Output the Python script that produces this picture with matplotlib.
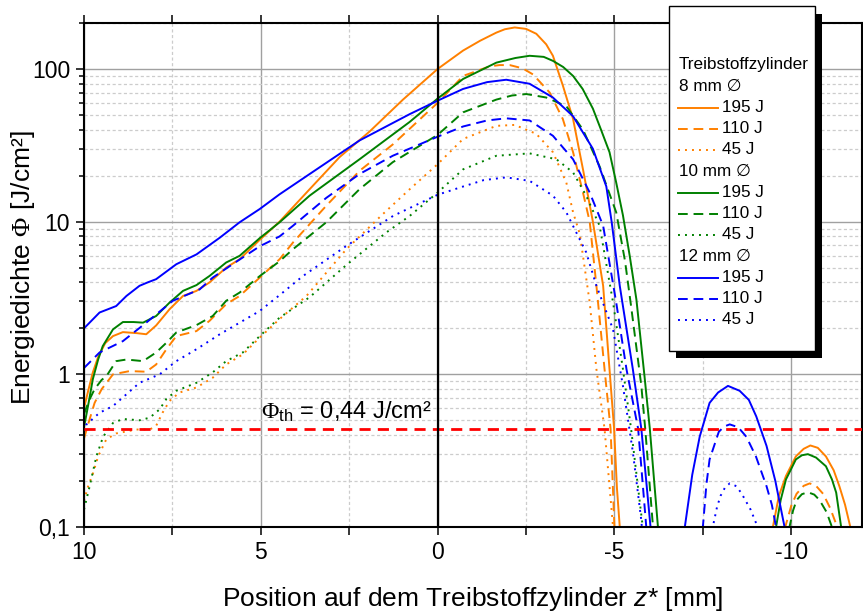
import matplotlib
matplotlib.use("Agg")
import matplotlib.pyplot as plt
from matplotlib.ticker import FixedLocator, FuncFormatter, LogLocator, NullFormatter
from matplotlib.lines import Line2D
from matplotlib.patches import Rectangle

plt.rcParams['font.family'] = ['Liberation Sans', 'DejaVu Sans']
plt.rcParams['mathtext.fontset'] = 'custom'
plt.rcParams['mathtext.rm'] = 'Liberation Serif'
plt.rcParams['mathtext.sf'] = 'Liberation Sans'
plt.rcParams['mathtext.it'] = 'Liberation Sans:italic'

# ---- energy density along the propellant cylinder, z* in mm, phi in J/cm^2 ----
# 8 mm diameter
x_8_195 = [10, 9.87, 9.75, 9.6, 9.4, 9.18, 8.9, 8.5, 8.24, 7.96, 7.58, 7.2, 6.82, 6.45, 5.98, 5.6,
           5.03, 4.47, 3.62, 2.77, 1.92, 0.98, 0, -0.72, -1.2, -1.66, -1.9, -2.18, -2.5, -2.79,
           -3.07, -3.26, -3.54, -3.83, -4.11, -4.39, -4.68, -4.86, -4.99, -5.07, -5.15, -5.3]
phi_8_195 = [0.6, 0.8, 1.03, 1.3, 1.6, 1.78, 1.89, 1.86, 1.83, 2.09, 2.67, 3.26, 3.52, 4.0, 5.0, 5.67,
             7.6, 10.0, 16.3, 26.5, 39, 63, 100, 132, 153, 173, 182, 187, 183, 170,
             145, 122, 78, 47, 22, 10, 3.8, 1.08, 0.44, 0.18, 0.1, 0.03]
x_8_195_side = [-9.3, -9.48, -9.65, -9.85, -10.13, -10.35, -10.54, -10.75, -10.98, -11.2, -11.36,
                -11.52, -11.67, -11.85]
phi_8_195_side = [0.03, 0.1, 0.16, 0.216, 0.29, 0.325, 0.342, 0.33, 0.29, 0.235, 0.185,
                  0.14, 0.1, 0.03]

x_8_110 = [10, 9.85, 9.7, 9.5, 9.33, 9.18, 8.71, 8.24, 7.96, 7.67, 7.39, 6.82, 6.45, 5.98, 5.6, 5.03,
           4.47, 4.09, 3.15, 2.21, 1.27, 0, -0.72, -1.47, -1.75, -2.04, -2.4, -2.7, -3.17, -3.54,
           -3.83, -4.11, -4.3, -4.49, -4.72, -4.89, -5.0, -5.15]
phi_8_110 = [0.38, 0.5, 0.65, 0.8, 0.9, 1.0, 1.05, 1.04, 1.16, 1.46, 1.78, 1.92, 2.24, 2.88, 3.26, 4.3,
             5.67, 7.3, 12.7, 21.5, 32, 60, 90, 104, 106, 106, 101, 92, 70, 47,
             28.5, 15.5, 10, 3.8, 1.08, 0.44, 0.1, 0.03]
x_8_110_side = [-9.65, -9.83, -10.0, -10.15, -10.35, -10.52, -10.7, -10.9, -11.1, -11.3, -11.5]
phi_8_110_side = [0.03, 0.1, 0.138, 0.165, 0.186, 0.193, 0.186, 0.165, 0.133, 0.1, 0.03]

x_8_45 = [10, 9.9, 9.74, 9.6, 9.37, 9.09, 8.52, 8.14, 7.96, 7.78, 7.58, 7.3, 6.82, 6.36, 5.98, 5.51,
          5.03, 4.47, 3.71, 2.58, 1.55, 0.79, 0, -0.72, -1.66, -2.18, -2.79, -3.26, -3.64, -3.83,
          -4.02, -4.3, -4.49, -4.72, -4.96, -5.1]
phi_8_45 = [0.148, 0.18, 0.227, 0.29, 0.375, 0.41, 0.435, 0.435, 0.46, 0.56, 0.67, 0.76, 0.82, 0.95, 1.16, 1.35,
            1.74, 2.3, 3.26, 6.6, 11.2, 16.3, 23.8, 34.8, 42.4, 43, 37.6, 28.5, 18, 11.5,
            8.3, 2.96, 1.08, 0.44, 0.1, 0.03]

# 10 mm diameter
x_10_195 = [10, 9.87, 9.75, 9.6, 9.47, 9.18, 8.9, 8.6, 8.33, 7.96, 7.58, 7.2, 6.82, 6.45, 5.98, 5.6,
            5.03, 4.47, 3.62, 2.21, 0.79, 0, -0.72, -1.66, -2.2, -2.6, -3.0, -3.26, -3.55, -3.83,
            -4.1, -4.39, -4.62, -4.86, -5.05, -5.24, -5.43, -5.62, -5.85, -6.0, -6.23, -6.35]
phi_10_195 = [0.45, 0.65, 0.93, 1.25, 1.53, 1.97, 2.2, 2.2, 2.18, 2.41, 2.95, 3.52, 3.84, 4.41, 5.4, 5.97,
              7.8, 9.9, 14.8, 25.6, 45, 64, 86, 110, 118, 122, 120, 113, 103, 90,
              74, 55, 40, 28.5, 18, 11, 6, 3.1, 0.97, 0.44, 0.1, 0.03]
x_10_195_side = [-9.4, -9.57, -9.7, -9.85, -10.13, -10.3, -10.47, -10.7, -10.98, -11.15, -11.27,
                 -11.41, -11.6]
phi_10_195_side = [0.03, 0.1, 0.15, 0.205, 0.277, 0.295, 0.30, 0.285, 0.25, 0.205, 0.168,
                   0.1, 0.03]

x_10_110 = [10, 9.85, 9.7, 9.5, 9.37, 9.09, 8.8, 8.33, 7.96, 7.67, 7.39, 6.82, 6.36, 5.98, 5.6, 5.03,
            4.47, 4.09, 3.15, 2.21, 1.27, 0, -0.72, -1.66, -2.1, -2.51, -3.07, -3.64, -4.11, -4.58,
            -5.05, -5.3, -5.47, -5.76, -5.87, -6.09, -6.25]
phi_10_110 = [0.55, 0.68, 0.8, 0.92, 0.97, 1.22, 1.25, 1.22, 1.39, 1.61, 1.88, 2.1, 2.41, 3.03, 3.43, 4.4,
              5.5, 6.6, 9.9, 16.3, 24.5, 37, 52, 63, 67, 68.5, 65, 57, 40, 23,
              11.5, 5.5, 2.8, 0.84, 0.44, 0.1, 0.03]
x_10_110_side = [-9.8, -9.95, -10.05, -10.15, -10.3, -10.47, -10.65, -10.8, -11.0, -11.15, -11.3]
phi_10_110_side = [0.03, 0.1, 0.128, 0.15, 0.164, 0.169, 0.163, 0.15, 0.125, 0.1, 0.03]

x_10_45 = [10, 9.84, 9.65, 9.46, 9.18, 8.9, 8.43, 8.14, 7.86, 7.67, 7.39, 6.82, 6.36, 5.98, 5.51, 5.03,
           4.47, 3.62, 2.58, 1.45, 0.79, 0, -0.72, -1.66, -2.6, -3.36, -3.83, -4.2, -4.58, -4.96,
           -5.24, -5.47, -5.8, -6.0]
phi_10_45 = [0.13, 0.185, 0.29, 0.39, 0.48, 0.51, 0.50, 0.52, 0.59, 0.69, 0.78, 0.88, 1.03, 1.22, 1.39, 1.78,
             2.35, 3.2, 5.2, 8.5, 10.9, 15.5, 22, 27, 28, 25.6, 21, 14.8, 9.4, 2.96,
             1.08, 0.44, 0.1, 0.03]

# 12 mm diameter
x_12_195 = [10, 9.56, 9.09, 8.8, 8.43, 8.2, 7.96, 7.39, 6.82, 6.16, 5.6, 5.03, 4.47, 3.62, 2.21, 0.79,
            0, -0.72, -1.4, -1.94, -2.6, -3.26, -3.83, -4.39, -4.77, -4.92, -5.15, -5.52, -5.76,
            -6.02, -6.15]
phi_12_195 = [2.0, 2.54, 2.8, 3.26, 3.8, 4.0, 4.2, 5.26, 6.1, 7.85, 9.9, 12.1, 15.1, 20.5, 34, 50.6,
              62, 74, 82, 85, 80, 65, 49, 30, 17, 10, 3.8, 1.08, 0.44,
              0.1, 0.03]
x_12_195_side = [-6.85, -6.99, -7.2, -7.41, -7.69, -7.93, -8.21, -8.54, -8.8, -9.01, -9.3, -9.55,
                 -9.81, -9.95]
phi_12_195_side = [0.03, 0.1, 0.22, 0.39, 0.65, 0.76, 0.84, 0.78, 0.68, 0.53, 0.34, 0.2,
                   0.1, 0.03]

x_12_110 = [10, 9.56, 8.9, 8.24, 7.49, 6.73, 6.36, 5.8, 5.03, 4.47, 4.09, 3.15, 2.21, 1.27, 0, -0.72,
            -1.4, -1.94, -2.6, -3.26, -3.83, -4.3, -4.68, -5.05, -5.34, -5.67, -5.9, -6.05]
phi_12_110 = [1.1, 1.39, 1.65, 2.18, 3.03, 3.6, 4.3, 5.26, 6.9, 8.0, 9.4, 14.3, 20.5, 27, 36, 42,
              46, 47.5, 46, 36.5, 25.6, 15.5, 9.4, 2.95, 1.08, 0.44, 0.1, 0.03]
x_12_110_side = [-7.35, -7.5, -7.6, -7.69, -7.95, -8.1, -8.26, -8.5, -8.73, -9.0, -9.3, -9.45,
                 -9.57, -9.75]
phi_12_110_side = [0.03, 0.1, 0.19, 0.277, 0.42, 0.455, 0.47, 0.45, 0.39, 0.29, 0.185, 0.14,
                   0.1, 0.03]

x_12_45 = [10, 9.93, 9.56, 9.18, 8.8, 8.43, 7.86, 7.39, 6.82, 6.16, 5.03, 4.47, 3.81, 2.58, 1.26, 0,
           -0.62, -1.3, -1.94, -2.6, -3.26, -3.64, -3.92, -4.2, -4.49, -4.96, -5.24, -5.52, -5.76, -5.95]
phi_12_45 = [0.42, 0.47, 0.56, 0.62, 0.74, 0.88, 1.0, 1.22, 1.46, 1.83, 2.6, 3.3, 4.4, 6.94, 10.9, 15,
             16.7, 18.7, 19.5, 18.5, 14.8, 11.5, 8.5, 6.3, 3.8, 1.97, 0.84, 0.31, 0.11, 0.03]
x_12_45_side = [-7.65, -7.78, -7.9, -8.0, -8.13, -8.26, -8.45, -8.6, -8.85, -9.05, -9.2]
phi_12_45_side = [0.03, 0.1, 0.135, 0.16, 0.182, 0.193, 0.185, 0.165, 0.13, 0.1, 0.03]

phi_th = 0.44  # ablation threshold

diameters = ["8 mm", "10 mm", "12 mm"]
energies = ["195 J", "110 J", "45 J"]
colors = {"8 mm": "#ff8000", "10 mm": "#008000", "12 mm": "#0000ff"}
dash_styles = {"195 J": (None, None), "110 J": (5, 3), "45 J": (1, 2.6)}

curves = {
    ("8 mm", "195 J"): [(x_8_195, phi_8_195), (x_8_195_side, phi_8_195_side)],
    ("8 mm", "110 J"): [(x_8_110, phi_8_110), (x_8_110_side, phi_8_110_side)],
    ("8 mm", "45 J"): [(x_8_45, phi_8_45)],
    ("10 mm", "195 J"): [(x_10_195, phi_10_195), (x_10_195_side, phi_10_195_side)],
    ("10 mm", "110 J"): [(x_10_110, phi_10_110), (x_10_110_side, phi_10_110_side)],
    ("10 mm", "45 J"): [(x_10_45, phi_10_45)],
    ("12 mm", "195 J"): [(x_12_195, phi_12_195), (x_12_195_side, phi_12_195_side)],
    ("12 mm", "110 J"): [(x_12_110, phi_12_110), (x_12_110_side, phi_12_110_side)],
    ("12 mm", "45 J"): [(x_12_45, phi_12_45), (x_12_45_side, phi_12_45_side)],
}

x_ticks = [10, 5, 0, -5, -10]
x_minor = [7.5, 2.5, -2.5, -7.5]
y_ticks = [0.1, 1, 10, 100]
y_labels = ["0,1", "1", "10", "100"]

W, H = 863, 614
fig = plt.figure(figsize=(W / 100, H / 100), dpi=100)
ax = fig.add_axes([84 / W, 1 - 527 / H, 778 / W, 504 / H])

lw = 1.4


def style(line, energy):
    d = dash_styles[energy]
    if d[0] is not None:
        line.set_dashes(d)


for (dia, en), parts in curves.items():
    for xs, ys in parts:
        ln, = ax.plot(xs, ys, color=colors[dia], lw=lw, solid_capstyle="butt", solid_joinstyle="round")
        style(ln, en)

ax.axhline(phi_th, color="#ff0000", lw=2.0, dashes=(4, 2.6), zorder=3)
ax.axvline(0, color="black", lw=1.6, zorder=3)
ax.text(5.0, 0.52, r"$\Phi_{\mathsf{th}}$ = " + f"{phi_th:.2f}".replace(".", ",") + " J/cm²",
        fontsize=17, ha="left", va="baseline")

ax.set_yscale("log")
ax.set_xlim(10, -12)
ax.set_ylim(0.1, 200)

ax.xaxis.set_major_locator(FixedLocator(x_ticks))
ax.xaxis.set_minor_locator(FixedLocator(x_minor))
ax.xaxis.set_major_formatter(FuncFormatter(lambda v, p: f"{v:g}"))
ax.yaxis.set_major_locator(FixedLocator(y_ticks))
ax.yaxis.set_major_formatter(FuncFormatter(lambda v, p: y_labels[y_ticks.index(v)] if v in y_ticks else ""))
ax.yaxis.set_minor_locator(LogLocator(base=10, subs=range(2, 10)))
ax.yaxis.set_minor_formatter(NullFormatter())

ax.grid(which="major", color="#a0a0a0", lw=1.0, ls="-")
ax.grid(which="minor", color="#cccccc", lw=0.9, ls=(0, (2.5, 2)))
ax.set_axisbelow(True)

for s in ax.spines.values():
    s.set_linewidth(1.5)
ax.tick_params(which="both", direction="out", top=True, right=True, width=1.1, labelsize=16.5)
ax.tick_params(which="major", length=6, pad=4)
ax.tick_params(axis="x", which="minor", length=6)
ax.tick_params(axis="y", which="minor", length=3.5)

ax.set_xlabel(r"Position auf dem Treibstoffzylinder $\mathit{z}$* [mm]", fontsize=19, labelpad=15)
ax.set_ylabel(r"Energiedichte $\Phi$ [J/cm²]", fontsize=19)
ax.yaxis.set_label_coords(-0.061, 0.515)

# legend box with drop shadow, drawn in figure pixels
def fx(px):
    return px / W


def fy(py):
    return 1 - py / H


fig.add_artist(Rectangle((fx(676), fy(358)), fx(822) - fx(676), fy(14) - fy(358),
                         transform=fig.transFigure, facecolor="black", edgecolor="none", zorder=10))
fig.add_artist(Rectangle((fx(669), fy(351)), fx(815) - fx(669), fy(6) - fy(351),
                         transform=fig.transFigure, facecolor="white", edgecolor="black", lw=1.0, zorder=11))

row_h = 21.25
row = 65
fig.text(fx(679), fy(row), "Treibstoffzylinder", fontsize=12.3, va="center", ha="left", zorder=12)
for dia in diameters:
    row += row_h
    fig.text(fx(679), fy(row), dia + " ∅", fontsize=12.3, va="center", ha="left", zorder=12)
    for en in energies:
        row += row_h
        sample = Line2D([fx(678), fx(718)], [fy(row), fy(row)], transform=fig.transFigure,
                        color=colors[dia], lw=lw, zorder=12)
        style(sample, en)
        fig.add_artist(sample)
        fig.text(fx(722), fy(row), en, fontsize=12.3, va="center", ha="left", zorder=12)

fig.savefig("out.png", dpi=100)
